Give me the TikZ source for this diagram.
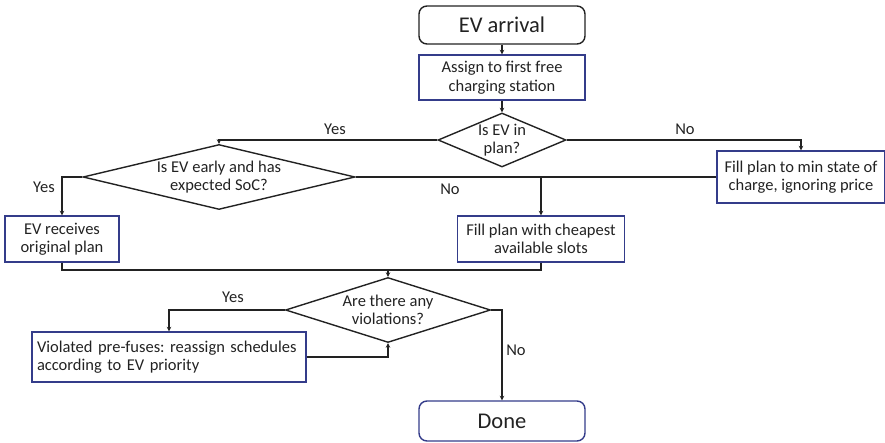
\documentclass[tikz,border=0pt]{standalone}
\usepackage{fontspec}
\setmainfont{Carlito}
\usetikzlibrary{shapes.geometric,arrows.meta}
\definecolor{boxblue}{HTML}{343C8A}
\definecolor{ink}{HTML}{222222}
\frenchspacing
\begin{document}
\begin{tikzpicture}[x=1pt,y=-1pt,
  every node/.style={font=\fontsize{16.5}{18.5}\selectfont, text=ink},
  procbox/.style={draw=boxblue, line width=1.4pt, align=center, inner sep=0pt},
  termbox/.style={rounded corners=8pt, line width=1.4pt, align=center, inner sep=0pt,
    font=\fontsize{22.5}{25}\selectfont},
  decision/.style={diamond, draw=ink, line width=1.4pt, inner sep=0pt},
  dtext/.style={align=center, inner sep=0pt},
  line/.style={draw=ink, line width=1.3pt},
  flow/.style={line, -{Stealth[length=4.5pt,width=4.5pt]}},
  lbl/.style={font=\fontsize{16.5}{18.5}\selectfont}
]
\useasboundingbox (0,0) rectangle (885,443);

% terminals
\node[termbox, draw=ink, minimum width=166pt, minimum height=38pt] (arr) at (502,25) {EV arrival};
\node[termbox, draw=boxblue, minimum width=166pt, minimum height=40pt] (done) at (502,421) {Done};

% process steps
\node[procbox, minimum width=166pt, minimum height=45pt] (assign) at (502,77.5) {Assign to first free\\charging station};
\node[procbox, minimum width=168pt, minimum height=52pt] (minfill) at (801,177) {Fill plan to min state of\\charge, ignoring price};
\node[procbox, minimum width=114pt, minimum height=46pt] (orig) at (62,239) {EV receives\\original plan};
\node[procbox, minimum width=167pt, minimum height=46pt] (cheap) at (541,239) {Fill plan with cheapest\\available slots};
\node[procbox, minimum width=274pt, minimum height=50pt, align=left, text width=264pt] (viol) at (169,357) {Violated pre-fuses: reassign schedules\\according to EV priority};

% decisions (outline first, wording on top)
\node[decision, minimum width=128pt, minimum height=54pt] (q1) at (502,140) {};
\node[dtext] (q1t) at (q1.center) {Is EV in\\plan?};
\node[decision, minimum width=272pt, minimum height=65pt] (q2) at (219,177) {};
\node[dtext] (q2t) at (q2.center) {Is EV early and has\\expected SoC?};
\node[decision, minimum width=205pt, minimum height=65pt] (q3) at (388,310) {};
\node[dtext] (q3t) at (q3.center) {Are there any\\violations?};

% junctions
\coordinate (j1) at (541,177);
\coordinate (j2) at (388,270);

% connectors
\draw[flow] (arr.south) -- (assign.north);
\draw[flow] (assign.south) -- (q1.north);
\draw[flow] (q1.west) -| (q2.north);
\draw[flow] (q1.east) -| (minfill.north);
\draw[flow] (q2.west) -| (orig.north);
\draw[line] (q2.east) -- (minfill.west);
\draw[flow] (j1) -- (cheap.north);
\draw[line] (orig.south) |- (j2);
\draw[line] (cheap.south) |- (j2);
\draw[flow] (j2) -- (q3.north);
\draw[flow] (q3.west) -| (viol.north);
\draw[flow] (viol.east) -| (q3.south);
\draw[flow] (q3.east) -| (done.north);

% branch labels
\node[lbl] (l1) at (335,129) {Yes};
\node[lbl] (l2) at (685,129) {No};
\node[lbl] (l3) at (44,187) {Yes};
\node[lbl] (l4) at (450,189) {No};
\node[lbl] (l5) at (233,297) {Yes};
\node[lbl] (l6) at (516,350) {No};
\end{tikzpicture}
\end{document}
